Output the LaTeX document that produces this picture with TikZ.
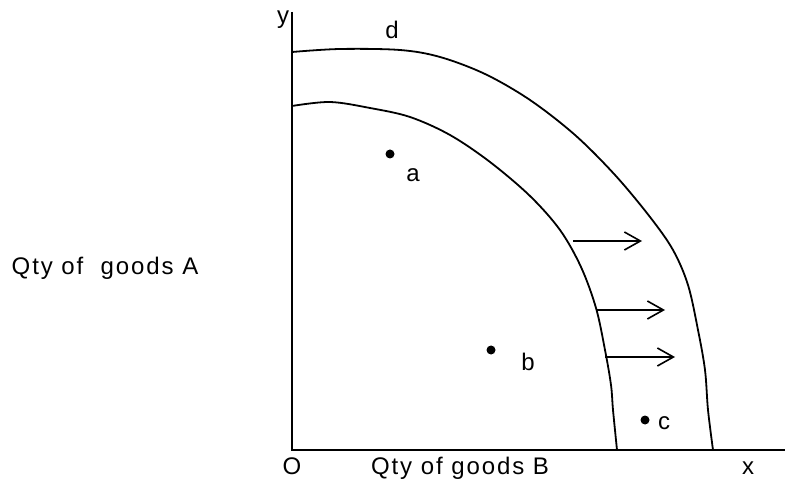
\documentclass[tikz,border=0pt]{standalone}
\usepackage{fontspec}
\setmainfont[LetterSpace=8]{Liberation Sans}
\usetikzlibrary{arrows.meta}
\tikzset{
  curve/.style={line width=0.9pt, line join=round},
  shift arrow/.style={line width=0.9pt, -{Straight Barb[length=8pt,width=9pt,line width=0.8pt]}},
  point/.style={circle, fill, inner sep=0pt, minimum size=4.5pt},
  lbl/.style={inner sep=0pt, font=\fontsize{12}{14}\selectfont}
}
\begin{document}
\begin{tikzpicture}[x=0.5pt, y=-0.5pt]
\useasboundingbox (0,0) rectangle (786,491);
% axes
\coordinate (top) at (292,12);
\coordinate (origin) at (292,450);
\coordinate (right) at (785,450);
\draw[line width=1pt] (top) -- (origin) -- (right);
\node[lbl] (ylabel) at (283,20) {y};
\node[lbl] (xlabel) at (748,468) {x};
\node[lbl] (olabel) at (292,466) {O};
\node[lbl] (qtyB) at (460,468) {Qty of goods B};
\node[lbl] (qtyA) at (105,268) {Qty of\ \ goods A};
% frontier curves
\draw[curve] plot[smooth, tension=0.55] coordinates {(292,106) (330,102) (370,108) (410,117) (450,135) (490,162) (530,196) (560,230) (581,267) (596,308) (605,350) (611,385) (613,410) (617,450)};
\draw[curve] plot[smooth, tension=0.55] coordinates {(292,52) (340,49) (400,50) (440,57) (485,74) (530,100) (575,135) (615,175) (650,217) (673,250) (688,285) (698,330) (705,370) (708,410) (713,450)};
\node[lbl] (dlabel) at (392,30) {d};
% points
\node[point] (a) at (390,154) {};
\node[lbl] (alabel) at (413,175) {a};
\node[point] (b) at (491,350) {};
\node[lbl] (blabel) at (528,362) {b};
\node[point] (c) at (645,420) {};
\node[lbl] (clabel) at (664,423) {c};
% shift arrows
\coordinate (s1) at (573,241);
\coordinate (e1) at (642,241);
\coordinate (s2) at (596,310);
\coordinate (e2) at (665,310);
\coordinate (s3) at (605,357);
\coordinate (e3) at (675,357);
\draw[shift arrow] (s1) -- (e1);
\draw[shift arrow] (s2) -- (e2);
\draw[shift arrow] (s3) -- (e3);
\end{tikzpicture}
\end{document}
